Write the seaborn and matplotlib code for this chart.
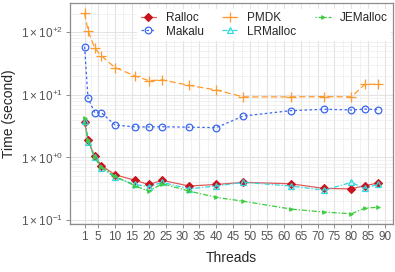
import numpy as np
import pandas as pd
import seaborn as sns
import matplotlib.pyplot as plt
from matplotlib.ticker import FixedLocator, NullFormatter

threads = [1, 2, 4, 6, 10, 16, 20, 24, 32, 40, 48, 62, 72, 80, 84, 88]

ralloc = [3.7, 1.9, 1.04, 0.74, 0.53, 0.43, 0.37, 0.43, 0.35, 0.37, 0.40, 0.38, 0.32, 0.315, 0.355, 0.39]
makalu = [59, 8.9, 5.2, 5.2, 3.3, 3.08, 3.08, 3.1, 3.05, 3.0, 4.6, 5.6, 5.9, 5.75, 5.95, 5.8]
pmdk = [203, 107, 56, 42, 27.4, 20.1, 16.9, 17.4, 14.2, 12.0, 9.3, 9.3, 9.4, 9.3, 14.8, 14.8]
lrmalloc = [3.8, 1.8, 1.0, 0.68, 0.48, 0.37, 0.34, 0.40, 0.315, 0.35, 0.40, 0.35, 0.30, 0.40, 0.32, 0.375]
jemalloc = [4.2, 1.9, 1.0, 0.70, 0.50, 0.35, 0.29, 0.38, 0.29, 0.23, 0.20, 0.15, 0.134, 0.126, 0.155, 0.16]

xticks = [1, 5, 10, 15, 20, 25, 30, 35, 40, 45, 50, 55, 60, 65, 70, 75, 80, 85, 90]
yticks = [0.1, 1, 10, 100]
ytick_labels = [r'$\mathregular{1\times10^{-1}}$', r'$\mathregular{1\times10^{+0}}$',
                r'$\mathregular{1\times10^{+1}}$', r'$\mathregular{1\times10^{+2}}$']

sns.set_style('white')
plt.rcParams['font.family'] = ['Liberation Sans', 'DejaVu Sans']
plt.rcParams['mathtext.fontset'] = 'custom'
plt.rcParams['mathtext.rm'] = 'Liberation Sans'

fig = plt.figure(figsize=(3.95, 2.72), dpi=100)
ax = fig.add_axes([0.177, 0.176, 0.818, 0.813])

series = [
    ('Ralloc', ralloc, '#e05a5a', 'D', '-',
     dict(markerfacecolor='#c8141e', markeredgecolor='#c8141e', markersize=3.8, markeredgewidth=0.8)),
    ('Makalu', makalu, '#3a66f0', 'o', (0, (2, 2)),
     dict(markerfacecolor='none', markeredgecolor='#3a66f0', markersize=4.8, markeredgewidth=0.9)),
    ('PMDK', pmdk, '#ff9a2e', '+', (0, (5, 2.5)),
     dict(markeredgecolor='#ff9a2e', markersize=7, markeredgewidth=0.9)),
    ('LRMalloc', lrmalloc, '#30d8e0', '^', (0, (4, 1.5, 1, 1.5)),
     dict(markerfacecolor='none', markeredgecolor='#30d8e0', markersize=5, markeredgewidth=0.9)),
    ('JEMalloc', jemalloc, '#3ccc3c', '>', (0, (1, 1.5, 4, 1.5)),
     dict(markerfacecolor='#3ccc3c', markeredgecolor='#3ccc3c', markersize=2.8, markeredgewidth=0.5)),
]

for name, vals, col, mk, ls, kw in series:
    df = pd.DataFrame({'threads': threads, 'time': vals})
    sns.lineplot(data=df, x='threads', y='time', ax=ax, color=col, marker=mk,
                 linestyle=ls, linewidth=0.9, label=name, **kw)

ax.set_yscale('log')
ax.set_xlim(-3.35, 92.35)
ax.set_ylim(0.086, 295)
ax.set_xticks(xticks)
ax.set_yticks(yticks)
ax.set_yticklabels(ytick_labels)
minor_x = [(a + b) / 2 for a, b in zip(xticks[:-1], xticks[1:])]
ax.xaxis.set_minor_locator(FixedLocator(minor_x))
minor_y = [m * 10.0 ** e for e in range(-2, 3) for m in range(2, 10)]
ax.yaxis.set_minor_locator(FixedLocator(minor_y))
ax.yaxis.set_minor_formatter(NullFormatter())

ax.grid(True, which='major', color='#e3e3e3', linewidth=0.8)
ax.grid(True, which='minor', color='#ececec', linewidth=0.5)
ax.set_axisbelow(True)
for s in ax.spines.values():
    s.set_color('#8c8c8c')
    s.set_linewidth(0.9)

ax.tick_params(axis='both', which='major', length=3, width=0.7, color='#8c8c8c',
               labelsize=8.5, labelcolor='#555555', pad=2, bottom=True, left=True)
ax.tick_params(axis='both', which='minor', length=0)

ax.set_xlabel('Threads', fontsize=10, labelpad=6)
ax.set_ylabel('Time (second)', fontsize=10, labelpad=3)

leg = ax.legend(ncol=3, loc='upper left', bbox_to_anchor=(0.19, 1.0), frameon=True,
                fontsize=8.5, handlelength=1.3, handletextpad=0.8, columnspacing=1.6,
                labelspacing=0.1, borderpad=0.3)
leg.get_frame().set_facecolor('white')
leg.get_frame().set_edgecolor('none')
leg.get_frame().set_alpha(1)

fig.savefig('out.png', dpi=100)
